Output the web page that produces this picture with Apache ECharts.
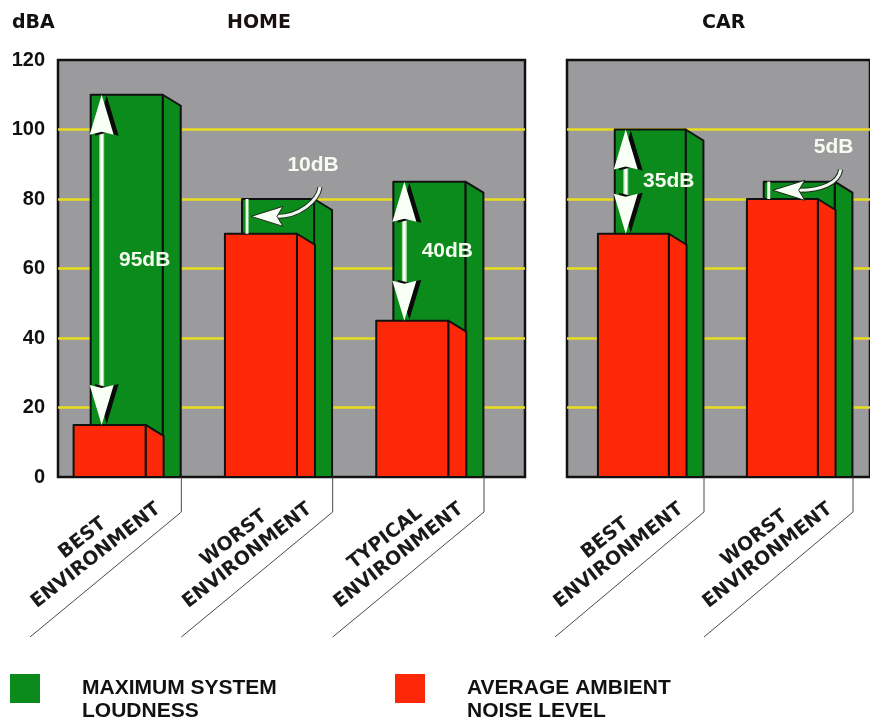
<!DOCTYPE html>
<html>
<head>
<meta charset="utf-8">
<script src="https://cdn.jsdelivr.net/npm/echarts@6/dist/echarts.min.js"></script>
<style>
  html, body { margin: 0; padding: 0; background: #ffffff; }
  #chart { width: 870px; height: 719px; }
</style>
</head>
<body>
<div id="chart"></div>
<script>
// ---- data ----
const homeCategories = ['BEST\nENVIRONMENT', 'WORST\nENVIRONMENT', 'TYPICAL\nENVIRONMENT'];
const carCategories = ['BEST\nENVIRONMENT', 'WORST\nENVIRONMENT'];
const homeLoudness = [110, 80, 85];   // maximum system loudness, dBA
const homeNoise = [15, 70, 45];       // average ambient noise, dBA
const carLoudness = [100, 85];
const carNoise = [70, 80];
const homeGapLabels = ['95dB', '10dB', '40dB'];
const carGapLabels = ['35dB', '5dB'];
const homeGapKinds = ['span', 'callout', 'span'];
const carGapKinds = ['span', 'callout'];
const yTicks = [0, 20, 40, 60, 80, 100, 120];
const loudnessName = 'MAXIMUM SYSTEM LOUDNESS';
const noiseName = 'AVERAGE AMBIENT NOISE LEVEL';

// ---- look ----
const GREEN = '#0b8b1b';
const RED = '#fc2808';
const PANEL_GRAY = '#9b9b9d';
const GRID_YELLOW = '#e8dc1e';
const OUTLINE = '#111111';
const FRONT_W = 0.476;      // front face width (fraction of a category band)
const GREEN_SHIFT = -0.099; // green front left edge, from band centre
const RED_SHIFT = -0.212;   // red front left edge, from band centre
const DEPTH_X = 0.119;      // side face depth (fraction of band)
const DEPTH_Y = 11;         // side face slant, px
const LABEL_ROT = 38 * Math.PI / 180;
const SANS = '"Liberation Sans", Arial, sans-serif';
const WIDE = '"DejaVu Sans", sans-serif';

function boxRenderer(shift, color) {
  return function (params, api) {
    const cat = api.value(0);
    const top = api.coord([cat, api.value(1)]);
    const base = api.coord([cat, 0]);
    const bw = api.size([1, 0])[0];
    const left = top[0] + shift * bw;
    const w = FRONT_W * bw;
    const d = DEPTH_X * bw;
    const st = { fill: color, stroke: OUTLINE, lineWidth: 2, lineJoin: 'round' };
    return {
      type: 'group',
      children: [
        { type: 'polygon', shape: { points: [[left + w, top[1]], [left + w + d, top[1] + DEPTH_Y], [left + w + d, base[1]], [left + w, base[1]]] }, style: st },
        { type: 'rect', shape: { x: left, y: top[1], width: w, height: base[1] - top[1] }, style: st }
      ]
    };
  };
}

function arrowHead(x, y, dir, fill) {
  // dir = 1: tip points up, -1: tip points down
  return {
    type: 'polygon',
    shape: { points: [[x, y], [x + 12, y + 40 * dir], [x, y + 37 * dir], [x - 12, y + 40 * dir]] },
    style: { fill: fill }
  };
}

function gapText(text, x, y) {
  return {
    type: 'text', x: x, y: y,
    style: {
      text: text, fill: '#f6fbf0', font: 'bold 21px ' + SANS,
      align: 'center', verticalAlign: 'middle',
      shadowColor: 'rgba(10,10,40,0.9)', shadowBlur: 2, shadowOffsetX: 1.5, shadowOffsetY: 1.5
    }
  };
}

function annotationRenderer(categories, gapLabels, gapKinds) {
  return function (params, api) {
    const i = params.dataIndex;
    const cat = api.value(0);
    const loudPt = api.coord([cat, api.value(1)]);
    const noisePt = api.coord([cat, api.value(2)]);
    const basePt = api.coord([cat, 0]);
    const bw = api.size([1, 0])[0];
    const greenLeft = loudPt[0] + GREEN_SHIFT * bw;
    const greenRight = greenLeft + FRONT_W * bw;
    const yTop = loudPt[1];
    const yBot = noisePt[1];
    const yMid = (yTop + yBot) / 2;
    const children = [];

    if (gapKinds[i] === 'span') {
      const x = greenLeft + 11;
      children.push({ type: 'line', shape: { x1: x, y1: yTop + 36, x2: x, y2: yBot - 36 }, style: { stroke: '#a6dca0', lineWidth: 5 } });
      children.push({ type: 'line', shape: { x1: x, y1: yTop + 36, x2: x, y2: yBot - 36 }, style: { stroke: '#ffffff', lineWidth: 2.5 } });
      children.push(arrowHead(x + 5, yTop + 1, 1, '#0a0a0a'));
      children.push(arrowHead(x + 5, yBot - 1, -1, '#0a0a0a'));
      children.push(arrowHead(x, yTop, 1, '#f8fff4'));
      children.push(arrowHead(x, yBot, -1, '#f8fff4'));
      children.push(gapText(gapLabels[i], x + 43, yMid));
    } else {
      const x = greenLeft + 5;
      const tip = x + 4;
      const tail = {
        x1: tip + 26, y1: yMid,
        cpx1: tip + 48, cpy1: yMid,
        cpx2: greenRight + 4, cpy2: yTop + 2,
        x2: greenRight + 6, y2: yTop - 12
      };
      children.push({ type: 'line', shape: { x1: x, y1: yTop, x2: x, y2: yBot }, style: { stroke: '#e8ffe0', lineWidth: 3 } });
      children.push({ type: 'bezierCurve', shape: tail, style: { stroke: '#1d2a1d', lineWidth: 5, fill: null } });
      children.push({ type: 'bezierCurve', shape: tail, style: { stroke: '#eef7ee', lineWidth: 3, fill: null } });
      children.push({ type: 'polygon', shape: { points: [[tip, yMid], [tip + 32, yMid - 10], [tip + 26, yMid], [tip + 32, yMid + 10]] }, style: { fill: '#f8fff4', stroke: '#1d2a1d', lineWidth: 1 } });
      children.push(gapText(gapLabels[i], greenRight - 1, yTop - 34));
    }

    // category separator and slanted label below the axis
    const right = basePt[0] + bw / 2;
    children.push({
      type: 'polyline',
      shape: { points: [[right, basePt[1]], [right, basePt[1] + 35], [right - bw, basePt[1] + 160]] },
      style: { stroke: '#4a4a4a', lineWidth: 1, fill: null }
    });
    children.push({
      type: 'text', x: right - 92, y: basePt[1] + 70, rotation: LABEL_ROT,
      style: {
        text: categories[i], fill: '#1a1a1a', font: 'bold 19px ' + WIDE,
        align: 'center', verticalAlign: 'middle', lineHeight: 22
      }
    });
    return { type: 'group', children: children };
  };
}

const chart = echarts.init(document.getElementById('chart'));

const panelY = (showLabels) => ({
  type: 'value', min: yTicks[0], max: yTicks[yTicks.length - 1], interval: yTicks[1] - yTicks[0],
  axisLine: { show: false }, axisTick: { show: false },
  axisLabel: { show: showLabels, margin: 13, color: '#111', fontSize: 20, fontWeight: 'bold', fontFamily: SANS },
  splitLine: { show: true, showMinLine: false, showMaxLine: false, lineStyle: { color: GRID_YELLOW, width: 2.5 } }
});
const plotY = () => ({ type: 'value', min: yTicks[0], max: yTicks[yTicks.length - 1], show: false, splitLine: { show: false } });

// legend text: two lines, set a little below the swatch's centre
const legendStyle = {
  top: 649, itemWidth: 30, itemHeight: 29, icon: 'rect',
  formatter: (name) => '\n' + name.replace('SYSTEM ', 'SYSTEM\n').replace('AMBIENT ', 'AMBIENT\n'),
  textStyle: { fontSize: 21, fontWeight: 'bold', fontFamily: SANS, color: '#111', lineHeight: 23, padding: [0, 0, 0, 37] }
};

chart.setOption({
  animation: false,
  backgroundColor: '#ffffff',
  title: [
    { text: 'dBA', left: 7, top: 9, textStyle: { fontSize: 19, fontWeight: 'bold', fontFamily: WIDE, color: '#111' } },
    { text: 'HOME', left: 222, top: 9, textStyle: { fontSize: 19, fontWeight: 'bold', fontFamily: WIDE, color: '#1a1010' } },
    { text: 'CAR', left: 697, top: 9, textStyle: { fontSize: 19, fontWeight: 'bold', fontFamily: WIDE, color: '#111' } }
  ],
  legend: [
    Object.assign({ data: [loudnessName], left: 5 }, legendStyle),
    Object.assign({ data: [noiseName], left: 390 }, legendStyle)
  ],
  grid: [
    { left: 58, top: 60, width: 467, height: 417, show: true, backgroundColor: PANEL_GRAY, borderColor: OUTLINE, borderWidth: 2.5 },
    { left: 567, top: 60, width: 320, height: 417, show: true, backgroundColor: PANEL_GRAY, borderColor: OUTLINE, borderWidth: 2.5 },
    { left: 30, top: 60, width: 454, height: 417 },
    { left: 555, top: 60, width: 298, height: 417 }
  ],
  xAxis: [
    { gridIndex: 0, type: 'value', min: 0, max: 1, show: false },
    { gridIndex: 1, type: 'value', min: 0, max: 1, show: false },
    { gridIndex: 2, type: 'category', data: homeCategories, boundaryGap: true, show: false },
    { gridIndex: 3, type: 'category', data: carCategories, boundaryGap: true, show: false }
  ],
  yAxis: [
    Object.assign({ gridIndex: 0 }, panelY(true)),
    Object.assign({ gridIndex: 1 }, panelY(false)),
    Object.assign({ gridIndex: 2 }, plotY()),
    Object.assign({ gridIndex: 3 }, plotY())
  ],
  series: [
    { name: loudnessName, type: 'custom', xAxisIndex: 2, yAxisIndex: 2, clip: false, itemStyle: { color: GREEN },
      data: homeLoudness.map((v, i) => [i, v]), renderItem: boxRenderer(GREEN_SHIFT, GREEN) },
    { name: noiseName, type: 'custom', xAxisIndex: 2, yAxisIndex: 2, clip: false, itemStyle: { color: RED },
      data: homeNoise.map((v, i) => [i, v]), renderItem: boxRenderer(RED_SHIFT, RED) },
    { name: 'home gaps', type: 'custom', xAxisIndex: 2, yAxisIndex: 2, clip: false, silent: true,
      data: homeLoudness.map((v, i) => [i, v, homeNoise[i]]), encode: { x: 0, y: [1, 2] },
      renderItem: annotationRenderer(homeCategories, homeGapLabels, homeGapKinds) },
    { name: loudnessName, type: 'custom', xAxisIndex: 3, yAxisIndex: 3, clip: false, itemStyle: { color: GREEN },
      data: carLoudness.map((v, i) => [i, v]), renderItem: boxRenderer(GREEN_SHIFT, GREEN) },
    { name: noiseName, type: 'custom', xAxisIndex: 3, yAxisIndex: 3, clip: false, itemStyle: { color: RED },
      data: carNoise.map((v, i) => [i, v]), renderItem: boxRenderer(RED_SHIFT, RED) },
    { name: 'car gaps', type: 'custom', xAxisIndex: 3, yAxisIndex: 3, clip: false, silent: true,
      data: carLoudness.map((v, i) => [i, v, carNoise[i]]), encode: { x: 0, y: [1, 2] },
      renderItem: annotationRenderer(carCategories, carGapLabels, carGapKinds) }
  ]
});
</script>
</body>
</html>
